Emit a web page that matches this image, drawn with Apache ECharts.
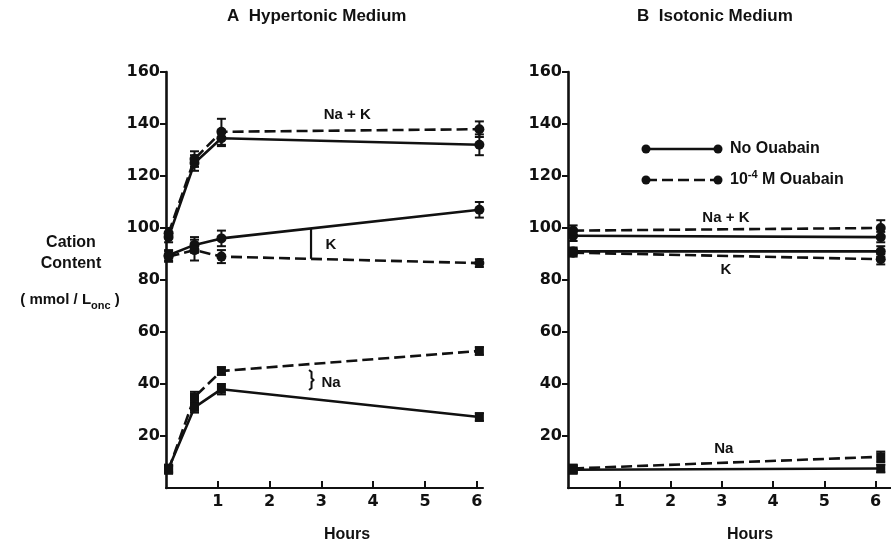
<!DOCTYPE html>
<html>
<head>
<meta charset="utf-8">
<script src="https://cdn.jsdelivr.net/npm/echarts@6/dist/echarts.min.js"></script>
<style>
  html, body { margin: 0; padding: 0; background: #fff; }
  #chart { width: 891px; height: 545px; }
</style>
</head>
<body>
<div id="chart"></div>
<script>
// ---------- DATA ----------
const xTickLabels = [1, 2, 3, 4, 5, 6];
const yTickLabels = [20, 40, 60, 80, 100, 120, 140, 160];

// Panel A: Hypertonic medium (sampling times, hours)
const hoursA = [0.05, 0.55, 1.07, 6.05];
const naKNoOuabainA = [96.5, 125, 134.5, 132];
const naKOuabainA   = [98, 126.5, 137, 138];
const kNoOuabainA   = [89.5, 93.5, 96, 107];
const kOuabainA     = [89, 91.5, 89, 86.5];
const naNoOuabainA  = [7.5, 31, 38, 27.3];
const naOuabainA    = [7, 35, 45, 52.7];
// error bars (±)
const errNaKNoOuabainA = [2, 3, 3, 4];
const errNaKOuabainA   = [2, 3, 5, 3];
const errKNoOuabainA   = [2, 3, 3, 3];
const errKOuabainA     = [2, 4, 2.5, 1.5];
const errNaNoOuabainA  = [1.5, 2, 2, 1.5];
const errNaOuabainA    = [1.5, 2, 1.5, 1.5];

// Panel B: Isotonic medium
const hoursB = [0.1, 6.1];
const naKNoOuabainB = [97, 96.5];
const naKOuabainB   = [99, 100];
const kNoOuabainB   = [91, 91];
const kOuabainB     = [90.5, 88];
const naNoOuabainB  = [7, 7.5];
const naOuabainB    = [7.5, 12];
const errNaKNoOuabainB = [2, 2];
const errNaKOuabainB   = [2, 3];
const errKNoOuabainB   = [1.5, 2];
const errKOuabainB     = [1.5, 2];
const errNaNoOuabainB  = [1.5, 1.5];
const errNaOuabainB    = [1.5, 2];

// ---------- CHART ----------
const INK = '#111';
const numFont = '"DejaVu Sans", sans-serif';
const txtFont = '"Liberation Sans", Arial, Helvetica, sans-serif';

function pairs(xs, ys) { return xs.map((x, i) => [x, ys[i]]); }

function lineSeries(xs, ys, dashed, symbol, gi) {
  return {
    type: 'line',
    xAxisIndex: gi, yAxisIndex: gi,
    data: pairs(xs, ys),
    symbol: symbol,
    symbolSize: symbol === 'rect' ? 9 : 10,
    itemStyle: { color: INK },
    lineStyle: { color: INK, width: 2.6, type: dashed ? [11, 5] : 'solid' },
    showSymbol: true,
    animation: false,
    z: 3
  };
}

function errSeries(xs, ys, errs, gi) {
  return {
    type: 'custom',
    xAxisIndex: gi, yAxisIndex: gi,
    data: xs.map((x, i) => [x, ys[i], errs[i]]),
    encode: { x: 0, y: 1 },
    animation: false,
    z: 2,
    renderItem: function (params, api) {
      const x = api.value(0), y = api.value(1), e = api.value(2);
      const t = api.coord([x, y + e]);
      const b = api.coord([x, y - e]);
      const w = 4.5;
      const st = { stroke: INK, lineWidth: 2 };
      return {
        type: 'group',
        children: [
          { type: 'line', shape: { x1: t[0], y1: t[1], x2: b[0], y2: b[1] }, style: st },
          { type: 'line', shape: { x1: t[0] - w, y1: t[1], x2: t[0] + w, y2: t[1] }, style: st },
          { type: 'line', shape: { x1: b[0] - w, y1: b[1], x2: b[0] + w, y2: b[1] }, style: st }
        ]
      };
    }
  };
}

function xAxisDef(gi, max) {
  return {
    type: 'value', gridIndex: gi, min: 0, max: max,
    interval: 1,
    axisLine: { show: true, lineStyle: { color: INK, width: 2.2 } },
    axisTick: { show: true, inside: true, length: 7, customValues: xTickLabels, lineStyle: { color: INK, width: 2 } },
    axisLabel: { show: true, customValues: xTickLabels, margin: 6, color: INK, fontFamily: numFont, fontWeight: 'bold', fontSize: 16 },
    splitLine: { show: false }
  };
}
function yAxisDef(gi) {
  return {
    type: 'value', gridIndex: gi, min: 0, max: 160, interval: 20,
    axisLine: { show: true, lineStyle: { color: INK, width: 2.6 } },
    axisTick: { show: true, inside: false, length: 6, customValues: yTickLabels, lineStyle: { color: INK, width: 2 } },
    axisLabel: { show: true, customValues: yTickLabels, margin: 6, color: INK, fontFamily: numFont, fontWeight: 'bold', fontSize: 16 },
    splitLine: { show: false }
  };
}

const chart = echarts.init(document.getElementById('chart'), null, { renderer: 'canvas' });

const option = {
  backgroundColor: '#fff',
  animation: false,
  grid: [
    { left: 166, top: 72, width: 317, height: 416 },
    { left: 568, top: 72, width: 326, height: 416 }
  ],
  xAxis: [xAxisDef(0, 6.12), xAxisDef(1, 6.3)],
  yAxis: [yAxisDef(0), yAxisDef(1)],
  series: [
    errSeries(hoursA, naKNoOuabainA, errNaKNoOuabainA, 0),
    errSeries(hoursA, naKOuabainA, errNaKOuabainA, 0),
    errSeries(hoursA, kNoOuabainA, errKNoOuabainA, 0),
    errSeries(hoursA, kOuabainA, errKOuabainA, 0),
    errSeries(hoursA, naNoOuabainA, errNaNoOuabainA, 0),
    errSeries(hoursA, naOuabainA, errNaOuabainA, 0),
    lineSeries(hoursA, naKNoOuabainA, false, 'circle', 0),
    lineSeries(hoursA, naKOuabainA, true, 'circle', 0),
    lineSeries(hoursA, kNoOuabainA, false, 'circle', 0),
    lineSeries(hoursA, kOuabainA, true, 'circle', 0),
    lineSeries(hoursA, naNoOuabainA, false, 'rect', 0),
    lineSeries(hoursA, naOuabainA, true, 'rect', 0),

    errSeries(hoursB, naKNoOuabainB, errNaKNoOuabainB, 1),
    errSeries(hoursB, naKOuabainB, errNaKOuabainB, 1),
    errSeries(hoursB, kNoOuabainB, errKNoOuabainB, 1),
    errSeries(hoursB, kOuabainB, errKOuabainB, 1),
    errSeries(hoursB, naNoOuabainB, errNaNoOuabainB, 1),
    errSeries(hoursB, naOuabainB, errNaOuabainB, 1),
    lineSeries(hoursB, naKNoOuabainB, false, 'circle', 1),
    lineSeries(hoursB, naKOuabainB, true, 'circle', 1),
    lineSeries(hoursB, kNoOuabainB, false, 'circle', 1),
    lineSeries(hoursB, kOuabainB, true, 'circle', 1),
    lineSeries(hoursB, naNoOuabainB, false, 'rect', 1),
    lineSeries(hoursB, naOuabainB, true, 'rect', 1)
  ]
};
chart.setOption(option);

// ---------- annotations (placed in data space) ----------
function interp(xs, ys, x) {
  for (let i = 0; i < xs.length - 1; i++) {
    if (x >= xs[i] && x <= xs[i + 1]) {
      return ys[i] + (ys[i + 1] - ys[i]) * (x - xs[i]) / (xs[i + 1] - xs[i]);
    }
  }
  return ys[ys.length - 1];
}
function px(gi, x, y) { return chart.convertToPixel({ gridIndex: gi }, [x, y]); }

const txtStyle = (text, size, align) => ({
  text: text, fill: INK, font: 'bold ' + size + 'px ' + txtFont,
  align: align || 'center', verticalAlign: 'middle'
});

const bracketHour = 2.8;
// K bracket (A)
const kTop = px(0, bracketHour, interp(hoursA, kNoOuabainA, bracketHour));
const kBot = px(0, bracketHour, interp(hoursA, kOuabainA, bracketHour));
// Na brace (A)
const naHi = px(0, bracketHour, interp(hoursA, naOuabainA, bracketHour) - 2.3);
const naLo = px(0, bracketHour, interp(hoursA, naNoOuabainA, bracketHour) + 3.4);
const bx = naHi[0], y1 = naHi[1], y2 = naLo[1], ym = (y1 + y2) / 2;

const graphics = [
  // titles
  { type: 'text', left: 227, top: 8, style: { text: 'A  Hypertonic Medium', fill: INK, font: 'bold 17px ' + txtFont } },
  { type: 'text', left: 637, top: 8, style: { text: 'B  Isotonic Medium', fill: INK, font: 'bold 17px ' + txtFont } },
  // axis names
  { type: 'text', x: 347, y: 535, style: txtStyle('Hours', 16) },
  { type: 'text', x: 750, y: 535, style: txtStyle('Hours', 16) },
  { type: 'text', x: 71, y: 243, style: txtStyle('Cation', 16) },
  { type: 'text', x: 71, y: 264, style: txtStyle('Content', 16) },
  {
    type: 'text', x: 70, y: 300,
    style: {
      text: '{n|( mmol / L}{s|onc}{n| )}', align: 'center', verticalAlign: 'middle', fill: INK,
      rich: {
        n: { fontFamily: txtFont, fontWeight: 'bold', fontSize: 15, lineHeight: 22, verticalAlign: 'middle', fill: INK },
        s: { fontFamily: txtFont, fontWeight: 'bold', fontSize: 11, lineHeight: 10, verticalAlign: 'bottom', fill: INK }
      }
    }
  },
  // K bracket
  { type: 'line', shape: { x1: kTop[0], y1: kTop[1], x2: kBot[0], y2: kBot[1] }, style: { stroke: INK, lineWidth: 2.2 } },
  // Na brace
  {
    type: 'polyline',
    shape: { points: [[bx - 2, y1], [bx + 0.5, y1 + 2], [bx + 0.5, ym - 2], [bx + 2.5, ym], [bx + 0.5, ym + 2], [bx + 0.5, y2 - 2], [bx - 2, y2]] },
    style: { stroke: INK, lineWidth: 2, fill: null }
  }
];

// labels in data coordinates
const labelsA = [
  { t: 'Na + K', h: 3.5, v: 143.5, al: 'center' },
  { t: 'K', h: 3.08, v: 93.5, al: 'left' },
  { t: 'Na', h: 3.0, v: 40.6, al: 'left' }
];
const labelsB = [
  { t: 'Na + K', h: 3.08, v: 103.8, al: 'center' },
  { t: 'K', h: 3.08, v: 83.8, al: 'center' },
  { t: 'Na', h: 3.04, v: 15.2, al: 'center' }
];
labelsA.forEach(l => { const p = px(0, l.h, l.v); graphics.push({ type: 'text', x: p[0], y: p[1], style: txtStyle(l.t, 15, l.al) }); });
labelsB.forEach(l => { const p = px(1, l.h, l.v); graphics.push({ type: 'text', x: p[0], y: p[1], style: txtStyle(l.t, 15, l.al) }); });

// legend (key) inside panel B
function legendRow(y, dashed, textRich) {
  const xa = 646, xb = 718;
  graphics.push({ type: 'line', shape: { x1: xa, y1: y, x2: xb, y2: y }, style: { stroke: INK, lineWidth: 2.6, lineDash: dashed ? [11, 5] : null } });
  graphics.push({ type: 'circle', shape: { cx: xa, cy: y, r: 4.5 }, style: { fill: INK } });
  graphics.push({ type: 'circle', shape: { cx: xb, cy: y, r: 4.5 }, style: { fill: INK } });
  graphics.push({ type: 'text', x: 730, y: y, style: Object.assign({ align: 'left', verticalAlign: 'middle', fill: INK }, textRich) });
}
legendRow(149, false, { text: 'No Ouabain', font: 'bold 16px ' + txtFont });
legendRow(180, true, {
  text: '{n|10}{p|-4}{n| M Ouabain}',
  rich: {
    n: { fontFamily: txtFont, fontWeight: 'bold', fontSize: 16, lineHeight: 22, verticalAlign: 'middle', fill: INK },
    p: { fontFamily: txtFont, fontWeight: 'bold', fontSize: 11, lineHeight: 10, verticalAlign: 'top', fill: INK }
  }
});

chart.setOption({ graphic: graphics });
</script>
</body>
</html>
